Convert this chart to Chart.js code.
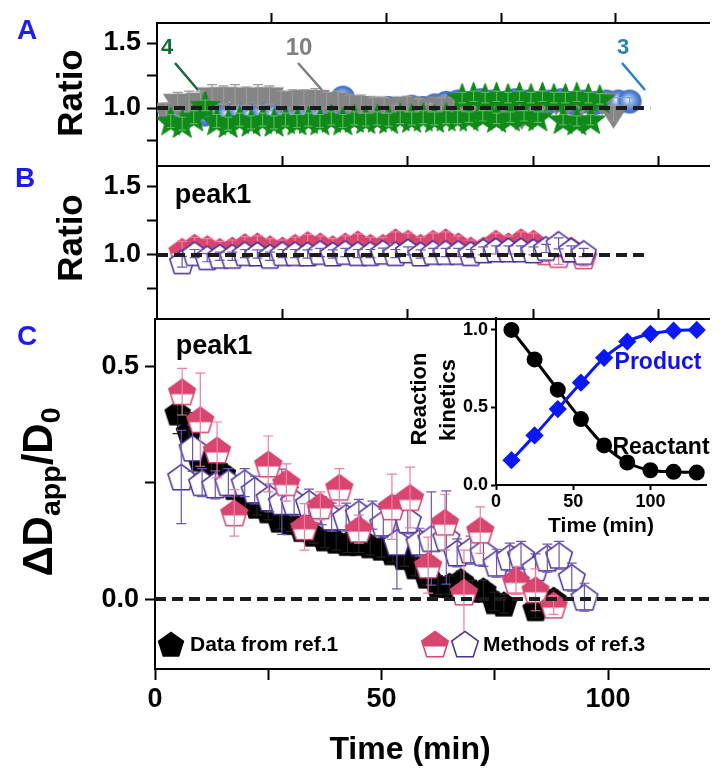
<!DOCTYPE html>
<html><head><meta charset="utf-8"><title>Ratio and diffusion chart</title>
<script src="https://cdn.jsdelivr.net/npm/chart.js@4.4.1/dist/chart.umd.min.js"></script>
<style>
html,body{margin:0;padding:0;background:#fff;}
#wrap{position:relative;width:720px;height:769px;overflow:hidden;background:#fff;font-family:'Liberation Sans',Arial,Helvetica,sans-serif;font-weight:bold;color:#000;}
#wrap canvas{position:absolute;}
.t{position:absolute;transform:translate(-50%,-50%);white-space:nowrap;line-height:1;}
.rot{transform:translate(-50%,-50%) rotate(-90deg);}
.l{position:absolute;transform:translate(0,-50%);white-space:nowrap;line-height:1;}
sub{font-size:0.68em;vertical-align:-0.28em;line-height:0;}
svg{position:absolute;left:0;top:0;}
</style></head>
<body>
<div id="wrap">
<canvas id="cA" width="720" height="190" style="left:0;top:0"></canvas>
<canvas id="cB" width="720" height="200" style="left:0;top:141px"></canvas>
<canvas id="cC" width="720" height="475" style="left:0;top:294px"></canvas>
<canvas id="cI" width="320" height="240" style="left:400px;top:300px"></canvas>
<canvas id="lg1" width="34" height="34" style="left:154px;top:627px"></canvas>
<canvas id="lg2" width="34" height="34" style="left:418px;top:627px"></canvas>
<canvas id="lg3" width="34" height="34" style="left:448px;top:627px"></canvas>
<svg width="720" height="120">
 <line x1="175" y1="63" x2="198" y2="90" stroke="#17693a" stroke-width="2.5"/>
 <line x1="298" y1="63" x2="322" y2="90" stroke="#7f7f7f" stroke-width="2.5"/>
 <line x1="622" y1="63" x2="645" y2="90" stroke="#2b7ec4" stroke-width="2.5"/>
</svg>
<div class="t" style="left:27px;top:30px;font-size:28px;color:#1c1cf0">A</div>
<div class="t" style="left:25px;top:178px;font-size:28px;color:#1c1cf0">B</div>
<div class="t" style="left:27px;top:336px;font-size:28px;color:#1c1cf0">C</div>
<div class="t rot" style="left:69px;top:93px;font-size:35px">Ratio</div>
<div class="t rot" style="left:69px;top:238px;font-size:35px">Ratio</div>
<div class="t rot" style="left:38px;top:492px;font-size:42px">ΔD<sub>app</sub>/D<sub>0</sub></div>
<div class="t" style="left:213px;top:194px;font-size:27px">peak1</div>
<div class="t" style="left:214px;top:345px;font-size:27px">peak1</div>
<div class="t" style="left:167px;top:47px;font-size:22px;color:#17693a">4</div>
<div class="t" style="left:299px;top:47px;font-size:24px;color:#7f7f7f">10</div>
<div class="t" style="left:623px;top:47px;font-size:22px;color:#2b7ec4">3</div>
<div class="l" style="left:190px;top:643px;font-size:21px">Data from ref.1</div>
<div class="l" style="left:483px;top:643px;font-size:21px">Methods of ref.3</div>
<div class="t" style="left:410px;top:748px;font-size:32px">Time (min)</div>
<div class="t rot" style="left:419px;top:399px;font-size:22px">Reaction</div>
<div class="t rot" style="left:448px;top:400px;font-size:22px">kinetics</div>
<div class="t" style="left:658px;top:361px;font-size:23px;color:#1010f0">Product</div>
<div class="t" style="left:661px;top:446px;font-size:23px">Reactant</div>
<div class="t" style="left:601px;top:524px;font-size:21px">Time (min)</div>
</div>
<script>
// ---------------- DATA ----------------
// Panel A (ratio, three samples)
const tA10 = [2,4.5,7,9.5,12,14.5,17,19.5,22,24.5,27,29.5,32,34.5,37,39.5,42,44.5,47,49.5,52,54.5,57,59.5,62,64.5,67,69.5,72,74.5,77,79.5,82,84.5,87,89.5,92,94.5,97,99.5];
const vA10 = [0.98,1.05,1.05,1.06,1.10,1.10,1.10,1.09,1.10,1.10,1.07,1.07,1.08,1.08,1.06,1.06,1.04,1.03,1.03,1.02,0.97,1.03,1.02,0.97,1.03,1.02,1.04,1.04,1.04,0.96,1.04,0.95,0.98,1.05,1.06,1.06,1.02,1.05,1.06,0.96];
const eA10 = [0.06,0.07,0.08,0.07,0.08,0.07,0.08,0.07,0.08,0.07,0.06,0.07,0.06,0.07,0.06,0.07,0.06,0.07,0.05,0.06,0.05,0.06,0.05,0.06,0.05,0.06,0.05,0.06,0.05,0.06,0.05,0.06,0.05,0.06,0.05,0.06,0.05,0.06,0.05,0.06];
const tA4 = [3,5.5,8,10.5,13,15.5,18,20.5,23,25.5,28,30.5,33,35.5,38,40.5,43,45.5,48,50.5,53,55.5,58,60.5,63,65.5,
             68,71,74,77,80,83,88.5,91.5,94.5,
             66.5,69,71.5,74,76.5,79,81.5,84,86.5,89,91.5,94,96.5];
const vA4 = [0.90,0.88,0.93,1.02,0.90,0.88,0.91,0.89,0.91,0.89,0.91,0.90,0.91,0.90,0.92,0.90,0.92,0.91,0.92,0.91,0.93,0.92,0.93,0.92,0.93,0.93,
             0.93,0.94,0.92,0.93,0.94,0.93,0.91,0.90,0.91,
             1.08,1.09,1.08,1.09,1.08,1.09,1.08,1.09,1.08,1.08,1.09,1.08,1.07];
const eA4 = [0.05,0.05,0.05,0.04,0.05,0.05,0.05,0.05,0.05,0.05,0.05,0.05,0.05,0.05,0.05,0.05,0.05,0.05,0.05,0.05,0.05,0.05,0.05,0.05,0.05,0.05,
             0.04,0.04,0.04,0.04,0.04,0.04,0.04,0.04,0.04,
             0.04,0.04,0.04,0.04,0.04,0.04,0.04,0.04,0.04,0.04,0.04,0.04,0.04];
const tA3 = [3,5.5,8,10.5,13,15.5,18,20.5,23,25.5,28,30.5,33,35.5,38,40.5,43,45.5,48,50.5,53,55.5,58,60.5,63,65.5,68,70.5,73,75.5,78,80.5,83,85.5,88,90.5,93,95.5,98,100.5,103];
const vA3 = [0.95,0.94,0.96,0.95,0.94,0.95,0.96,0.95,0.96,0.95,0.96,0.96,0.97,0.96,0.97,1.08,0.99,1.00,0.98,1.00,0.99,1.01,1.00,1.02,1.04,1.05,1.04,1.06,1.05,1.04,1.06,1.05,1.04,1.05,1.06,1.04,1.05,1.04,1.05,1.05,1.05];
const eA3 = [0.03,0.03,0.03,0.03,0.03,0.03,0.03,0.03,0.03,0.03,0.03,0.03,0.03,0.03,0.03,0.03,0.03,0.03,0.03,0.03,0.03,0.03,0.03,0.03,0.03,0.03,0.03,0.03,0.03,0.03,0.03,0.03,0.03,0.03,0.03,0.03,0.03,0.03,0.03,0.03,0.03];
// Panel B (ratio, peak1)
const tB = [5,7.5,10,12.5,15,17.5,20,22.5,25,27.5,30,32.5,35,37.5,40,42.5,45,47.5,50,52.5,55,57.5,60,62.5,65,67.5,70,72.5,75,77.5,80,82.5,85];
const vBfill = [1.03,1.06,1.05,1.03,1.04,1.065,1.07,1.05,1.04,1.06,1.08,1.07,1.05,1.07,1.085,1.06,1.06,1.10,1.09,1.06,1.09,1.10,1.07,1.04,1.04,1.09,1.07,1.10,1.09,1.02,1.00,1.04,0.99];
const eBfill = [0.07,0.07,0.07,0.07,0.07,0.07,0.07,0.07,0.07,0.07,0.07,0.07,0.07,0.07,0.07,0.07,0.07,0.07,0.07,0.07,0.07,0.07,0.07,0.07,0.07,0.07,0.07,0.07,0.07,0.07,0.07,0.07,0.07];
const vBopen = [0.95,1.01,0.98,0.99,0.99,1.01,1.007,0.99,1.01,1.01,1.007,1.018,1.007,1.018,1.01,1.01,1.02,1.01,1.03,1.007,1.018,1.018,1.018,1.01,1.03,1.037,1.037,1.037,1.03,1.048,1.085,1.037,1.018];
const eBopen = [0.04,0.03,0.03,0.03,0.03,0.03,0.03,0.03,0.03,0.03,0.03,0.03,0.03,0.03,0.03,0.03,0.03,0.03,0.03,0.03,0.03,0.03,0.03,0.03,0.03,0.03,0.03,0.03,0.03,0.03,0.04,0.03,0.03];
// Panel C (ΔDapp/D0, peak1)
const tC1 = [5,7.5,10,12.5,15,17.5,20,22.5,25,27.5,30,32.5,35,37.5,40,42.5,45,47.5,50,52.5,55,57.5,60,62.5,65,67.5,70,72.5,75,77,84,88];
const vC1 = [0.40,0.36,0.30,0.28,0.27,0.24,0.21,0.20,0.19,0.17,0.165,0.15,0.14,0.13,0.125,0.12,0.12,0.115,0.11,0.10,0.09,0.07,0.05,0.03,0.03,0.04,0.02,0.02,-0.005,-0.01,-0.02,0.0];
const eC1 = [0.045,0.04,0.03,0.03,0.02,0.02,0.02,0.02,0.02,0.02,0.02,0.02,0.02,0.02,0.02,0.02,0.02,0.02,0.02,0.02,0.02,0.02,0.02,0.02,0.02,0.02,0.02,0.02,0.02,0.02,0.02,0.02];
const tC2 = [6,10,13.7,17.5,25,29,33,36.5,40.7,45,52.3,56.3,60.3,64,68.2,71.8,79.7,84,88];
const vC2 = [0.445,0.385,0.32,0.185,0.29,0.25,0.155,0.20,0.24,0.15,0.198,0.218,0.073,0.165,0.015,0.148,0.04,0.02,-0.013];
const eC2 = [0.05,0.10,0.06,0.05,0.06,0.04,0.05,0.03,0.04,0.03,0.07,0.065,0.06,0.06,0.09,0.05,0.03,0.045,0.02];
const tC3 = [5.8,8.3,10.4,13.3,16.2,19.8,22,25.3,28,30.7,34,36.8,39,42.2,45,48,50.4,53.4,55.8,58.4,61,64.3,66.7,69.7,72.5,75.4,78.3,80.8,84,86.6,89.2,92,94.8];
const vC3 = [0.262,0.324,0.25,0.245,0.25,0.25,0.234,0.217,0.209,0.209,0.206,0.19,0.176,0.176,0.184,0.18,0.163,0.122,0.17,0.122,0.13,0.132,0.099,0.105,0.10,0.077,0.09,0.094,0.067,0.088,0.094,0.047,0.004];
const eC3 = [0.10,0.05,0.03,0.03,0.03,0.03,0.03,0.03,0.07,0.03,0.03,0.03,0.03,0.03,0.03,0.03,0.03,0.10,0.03,0.03,0.10,0.10,0.03,0.03,0.03,0.03,0.03,0.03,0.03,0.03,0.03,0.03,0.03];
// Inset (reaction kinetics)
const tK = [10,25,40,55,70,85,100,115,130];
const reactant = [1.0,0.81,0.615,0.425,0.255,0.145,0.095,0.085,0.08];
const product = [0.16,0.32,0.49,0.66,0.82,0.925,0.975,0.995,1.0];
// Ticks
const ratioTicks = [0.75,1.0,1.25,1.5];   const ratioLabels = ['','1.0','','1.5'];
const dTicks = [0,0.25,0.5];              const dLabels = ['0.0','','0.5'];
const timeTicks = [0,25,50,75,100];       const timeLabels = ['0','','50','','100'];
const topTicks = [25,50,75,100];
const inYTicks = [0,0.5,1.0];             const inYLabels = ['0.0','0.5','1.0'];
const inXTicks = [0,50,100];              const inXLabels = ['0','50','100'];

// ---------------- MARKERS ----------------
const FF = "'Liberation Sans', Arial, Helvetica, sans-serif";
function mk(s){const c=document.createElement('canvas');c.width=c.height=s;return c;}
function pent(r, fill, stroke, lw, half){
  const s=Math.ceil(2*r+lw+4), c=mk(s), g=c.getContext('2d'), cx=s/2, cy=s/2+r*0.1;
  const path=()=>{g.beginPath();for(let k=0;k<5;k++){const a=-Math.PI/2+k*2*Math.PI/5;const px=cx+r*Math.cos(a),py=cy+r*Math.sin(a);k?g.lineTo(px,py):g.moveTo(px,py);}g.closePath();};
  path(); g.fillStyle = half ? '#fff' : fill; g.fill();
  if(half){g.save();path();g.clip();g.fillStyle=fill;g.fillRect(0,0,s,cy+r*0.08);g.restore();}
  if(stroke){path();g.lineWidth=lw;g.strokeStyle=stroke;g.lineJoin='miter';g.stroke();}
  return c;
}
function star(R, ri, fill){
  const s=Math.ceil(2*R+4), c=mk(s), g=c.getContext('2d'), cx=s/2, cy=s/2+R*0.08;
  g.beginPath();
  for(let k=0;k<10;k++){const a=-Math.PI/2+k*Math.PI/5, rr=k%2?ri:R;const px=cx+rr*Math.cos(a),py=cy+rr*Math.sin(a);k?g.lineTo(px,py):g.moveTo(px,py);}
  g.closePath(); g.fillStyle=fill; g.fill(); g.lineWidth=1; g.strokeStyle=fill; g.stroke();
  return c;
}
function tri(r, fill){
  const s=Math.ceil(2*r+4), c=mk(s), g=c.getContext('2d'), cx=s/2, cy=s/2;
  g.beginPath(); g.moveTo(cx,cy+r); g.lineTo(cx-r*0.95,cy-r*0.5); g.lineTo(cx+r*0.95,cy-r*0.5); g.closePath();
  g.fillStyle=fill; g.fill(); return c;
}
function ball(r){
  const s=Math.ceil(2*r+4), c=mk(s), g=c.getContext('2d'), cx=s/2, cy=s/2;
  const gr=g.createRadialGradient(cx-r*0.15,cy-r*0.2,r*0.05,cx,cy,r);
  gr.addColorStop(0,'#eef3fc'); gr.addColorStop(0.35,'#8fb0e6'); gr.addColorStop(0.75,'#4d7dd2'); gr.addColorStop(1,'#3a66bd');
  g.beginPath(); g.arc(cx,cy,r,0,2*Math.PI); g.fillStyle=gr; g.fill(); return c;
}
const MAG='#d8456f', MAGE='#ee7ea2', PUR='#4b2e98', PURE='#6d55b5';
const imgGray = tri(15.5,'#858585');
const imgStar = star(15.5,6.5,'#0f8a18');
const imgBall = ball(12);
const imgBMag = pent(13.5,MAG,MAG,1.5,true);
const imgBPur = pent(13,'#fff',PUR,1.5,false);
const imgCBlk = pent(14,'#000',null,0,false);
const imgCMag = pent(14,MAG,MAG,1.5,true);
const imgCPur = pent(14,'#fff',PUR,1.5,false);

// ---------------- HELPERS ----------------
function pts(t,v){return t.map((x,i)=>({x,y:v[i]}));}
const errPlugin = {
  id:'errbars',
  afterDatasetDraw(chart,args){
    const ds=chart.data.datasets[args.index]; if(!ds.errs) return;
    const meta=args.meta, xs=chart.scales[meta.xAxisID], ys=chart.scales[meta.yAxisID], g=chart.ctx, a=chart.chartArea;
    g.save(); g.beginPath(); g.rect(a.left,a.top,a.right-a.left,a.bottom-a.top); g.clip();
    g.strokeStyle=ds.errColor; g.lineWidth=ds.errWidth||1.2;
    ds.data.forEach((p,i)=>{
      const e=ds.errs[i], x=xs.getPixelForValue(p.x), y1=ys.getPixelForValue(p.y+e), y2=ys.getPixelForValue(p.y-e), c=ds.capW||5;
      g.beginPath(); g.moveTo(x,y1); g.lineTo(x,y2); g.moveTo(x-c,y1); g.lineTo(x+c,y1); g.moveTo(x-c,y2); g.lineTo(x+c,y2); g.stroke();
    });
    g.restore();
  }
};
const whiteArea = {
  id:'whiteArea',
  beforeDatasetsDraw(chart){const a=chart.chartArea,g=chart.ctx;g.save();g.fillStyle='#fff';g.fillRect(a.left+1,a.top+2,a.right-a.left,a.bottom-a.top-3);g.restore();}
};
function yAx(min,max,ticks,labels,width,fs,tl,pad){
  return {type:'linear',axis:'y',position:'left',min,max,
    afterFit(s){s.width=width;},
    afterBuildTicks(s){s.ticks=ticks.map(v=>({value:v}));},
    ticks:{autoSkip:false,callback:(v,i)=>labels[i],color:'#000',padding:pad,font:{family:FF,weight:'bold',size:fs,lineHeight:1}},
    grid:{drawOnChartArea:false,drawTicks:true,tickLength:tl,tickWidth:2,tickColor:'#000'},
    border:{display:true,color:'#000',width:2}};
}
function xAx(pos,min,max,height,ticks,labels,tl,fs,pad){
  const show=!!labels, hasT=!!ticks;
  const tk=ticks||[min];
  return {type:'linear',axis:'x',position:pos,min,max,
    afterFit(s){s.height=height;},
    afterBuildTicks(s){s.ticks=tk.map(v=>({value:v}));},
    ticks:{display:show,autoSkip:false,maxRotation:0,minRotation:0,callback:(v,i)=>show?labels[i]:'',color:'#000',padding:pad||4,font:{family:FF,weight:'bold',size:fs||12,lineHeight:1}},
    grid:{drawOnChartArea:false,drawTicks:hasT,tickLength:hasT?tl:0,tickWidth:2,tickColor:'#000'},
    border:{display:true,color:'#000',width:2}};
}
function base(scales,padding){
  return {responsive:false,animation:false,devicePixelRatio:1,events:[],
    layout:{padding:padding||0},
    plugins:{legend:{display:false},tooltip:{enabled:false}},
    scales};
}
function sds(data,img,order,errs,errColor,capW){
  return {type:'scatter',data,pointStyle:img,pointRadius:10,order,errs,errColor,capW:capW||5,errWidth:1.2};
}
function dash(x0,x1,y){
  return {type:'line',data:[{x:x0,y},{x:x1,y}],borderColor:'#1c1c1c',borderWidth:4,borderDash:[11,6],pointRadius:0,order:0};
}

// ---------------- PANEL A ----------------
const xmaxA = (720-157)/4.68;
new Chart(document.getElementById('cA'),{
  type:'scatter',
  data:{datasets:[
    dash(0,107.5,1.0),
    sds(pts(tA4,vA4),imgStar,1,eA4,'#58b85e',4),
    sds(pts(tA10,vA10),imgGray,2,eA10,'#9a9a9a',5),
    sds(pts(tA3,vA3),imgBall,3,eA3,'#7aa0de',4)
  ]},
  options:base({
    x:xAx('bottom',0,xmaxA,24,null,null,0),
    xt:xAx('top',0,xmaxA,23,topTicks,null,10),
    y:yAx(0.554,1.654,ratioTicks,ratioLabels,157,27,10,6)
  }),
  plugins:[errPlugin]
});

// ---------------- PANEL B ----------------
const xmaxB = (720-157)/5.12;
new Chart(document.getElementById('cB'),{
  type:'scatter',
  data:{datasets:[
    dash(0,98,1.0),
    sds(pts(tB,vBopen),imgBPur,1,eBopen,PURE,5),
    sds(pts(tB,vBfill),imgBMag,2,eBfill,MAGE,5)
  ]},
  options:base({
    x:xAx('bottom',0,xmaxB,22,topTicks,null,-10),
    xt:xAx('top',0,xmaxB,25,topTicks,null,10),
    y:yAx(0.529,1.654,ratioTicks,ratioLabels,157,27,10,6)
  }),
  plugins:[errPlugin]
});

// ---------------- PANEL C ----------------
const xmaxC = (720-155)/4.62;
new Chart(document.getElementById('cC'),{
  type:'scatter',
  data:{datasets:[
    dash(0,xmaxC,0.0),
    sds(pts(tC2,vC2),imgCMag,1,eC2,MAGE,5),
    sds(pts(tC3,vC3),imgCPur,2,eC3,PURE,5),
    sds(pts(tC1,vC1),imgCBlk,3,eC1,'#222',5)
  ]},
  options:base({
    x:xAx('bottom',0,xmaxC,100,timeTicks,timeLabels,11,27,6),
    xt:xAx('top',0,xmaxC,25,null,null,0),
    y:yAx(-0.150,0.601,dTicks,dLabels,155,27,10,6)
  }),
  plugins:[errPlugin]
});

// ---------------- INSET ----------------
new Chart(document.getElementById('cI'),{
  type:'line',
  data:{datasets:[
    {data:pts(tK,product),borderColor:'#0a18f5',backgroundColor:'#0a18f5',borderWidth:3,pointStyle:'rectRot',pointRadius:7,cubicInterpolationMode:'monotone',order:1},
    {data:pts(tK,reactant),borderColor:'#000',backgroundColor:'#000',borderWidth:3,pointStyle:'circle',pointRadius:6.5,cubicInterpolationMode:'monotone',order:2}
  ]},
  options:base({
    x:xAx('bottom',0,136,55,inXTicks,inXLabels,5,18,3),
    y:yAx(0,1.077,inYTicks,inYLabels,96,18,5,3)
  },{top:18,right:14,left:0,bottom:0}),
  plugins:[whiteArea]
});

// ---------------- LEGEND SYMBOLS ----------------
function putImg(id,img){const c=document.getElementById(id),g=c.getContext('2d');g.drawImage(img,(c.width-img.width)/2,(c.height-img.height)/2);}
putImg('lg1',imgCBlk); putImg('lg2',imgCMag); putImg('lg3',imgCPur);
</script>
</body></html>
